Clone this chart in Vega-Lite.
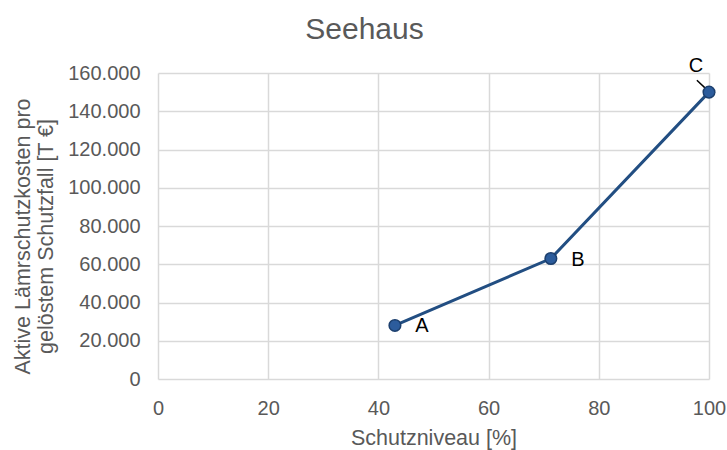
{
  "$schema": "https://vega.github.io/schema/vega-lite/v6.json",
  "width": 551,
  "height": 306,
  "autosize": "none",
  "padding": {"left": 158, "top": 73, "right": 18, "bottom": 71},
  "config": {
    "locale": {"number": {"decimal": ",", "thousands": ".", "grouping": [3], "currency": ["", " €"]}},
    "view": {"stroke": null},
    "font": "Liberation Sans"
  },
  "title": {
    "text": "Seehaus",
    "fontSize": 30,
    "font": "Liberation Sans",
    "fontWeight": "normal",
    "color": "#595959",
    "anchor": "middle",
    "dx": -69,
    "offset": 11
  },
  "datasets": {
    "pts": [
      {"schutzniveau": 43, "kosten": 28000, "label": "A"},
      {"schutzniveau": 71.3, "kosten": 63000, "label": "B"},
      {"schutzniveau": 100, "kosten": 150000, "label": "C"}
    ],
    "leader": [
      {"schutzniveau": 97.8, "kosten": 156200, "x2": 99.8, "y2": 150800}
    ]
  },
  "encoding": {
    "x": {
      "field": "schutzniveau", "type": "quantitative",
      "scale": {"domain": [0, 100], "nice": false},
      "axis": {
        "title": "Schutzniveau [%]",
        "values": [0, 20, 40, 60, 80, 100],
        "grid": true, "gridColor": "#d9d9d9", "gridWidth": 1.5,
        "domain": false, "ticks": false,
        "labelFlush": false, "labelOverlap": false,
        "labelFontSize": 20, "labelColor": "#595959", "labelPadding": 19,
        "labelFont": "Liberation Sans",
        "titleFontSize": 21.5, "titleColor": "#595959", "titleFontWeight": "normal",
        "titleFont": "Liberation Sans", "titlePadding": 9
      }
    },
    "y": {
      "field": "kosten", "type": "quantitative",
      "scale": {"domain": [0, 160000], "nice": false},
      "axis": {
        "title": ["Aktive Lämrschutzkosten pro", "gelöstem Schutzfall [T €]"],
        "values": [0, 20000, 40000, 60000, 80000, 100000, 120000, 140000, 160000],
        "tickCount": 9,
        "format": ",d",
        "grid": true, "gridColor": "#d9d9d9", "gridWidth": 1.5,
        "domain": false, "ticks": false,
        "labelFlush": false, "labelOverlap": false,
        "labelFontSize": 20, "labelColor": "#595959", "labelPadding": 18,
        "labelFont": "Liberation Sans",
        "titleFontSize": 21.5, "titleColor": "#595959", "titleFontWeight": "normal",
        "titleFont": "Liberation Sans", "titlePadding": 10, "titleLineHeight": 23,
        "titleY": 163
      }
    }
  },
  "layer": [
    {
      "data": {"name": "pts"},
      "mark": {"type": "line", "color": "#224e82", "strokeWidth": 3}
    },
    {
      "data": {"name": "leader"},
      "mark": {"type": "rule", "color": "#000000", "strokeWidth": 1.5},
      "encoding": {
        "x2": {"field": "x2"},
        "y2": {"field": "y2"}
      }
    },
    {
      "data": {"name": "pts"},
      "mark": {"type": "point", "filled": true, "size": 135, "fill": "#2c5c9c", "stroke": "#1c3f6e", "strokeWidth": 1.5, "opacity": 1}
    },
    {
      "data": {"name": "pts"},
      "transform": [{"filter": "datum.label != 'C'"}],
      "mark": {"type": "text", "fontSize": 20, "color": "#000000", "dx": 27, "dy": 1, "font": "Liberation Sans"},
      "encoding": {"text": {"field": "label"}}
    },
    {
      "data": {"name": "pts"},
      "transform": [{"filter": "datum.label == 'C'"}],
      "mark": {"type": "text", "fontSize": 20, "color": "#000000", "dx": -13, "dy": -26, "font": "Liberation Sans"},
      "encoding": {"text": {"field": "label"}}
    }
  ]
}
